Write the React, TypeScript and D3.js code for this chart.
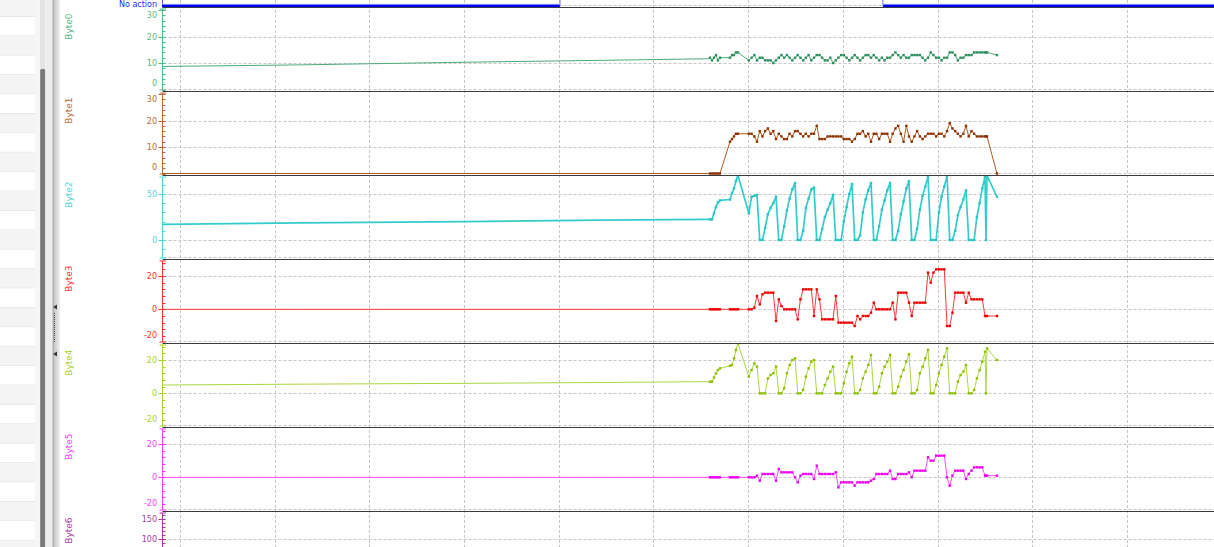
import React from "react";
import * as d3 from "d3";

// ---- sample timestamps (seconds) ----
const sampleTimes = [
  -0.19, 1.267, 3.01, 4.435, 5.575,
  5.597, 5.618, 5.639, 5.66, 5.681, 5.702,
  5.808, 5.829, 5.85, 5.871, 5.892,
  6.007, 6.036, 6.065, 6.093, 6.122, 6.151, 6.179, 6.208, 6.237, 6.265,
  6.294, 6.323, 6.351, 6.38, 6.409, 6.437, 6.466, 6.495, 6.523, 6.552,
  6.581, 6.609, 6.638, 6.667, 6.695, 6.724, 6.753, 6.781, 6.81, 6.839,
  6.867, 6.896, 6.925, 6.953, 6.982, 7.01, 7.039, 7.068, 7.096, 7.125,
  7.154, 7.182, 7.211, 7.24, 7.268, 7.297, 7.326, 7.354, 7.383, 7.412,
  7.44, 7.469, 7.498, 7.526, 7.555, 7.584, 7.612, 7.641, 7.67, 7.698,
  7.727, 7.756, 7.784, 7.813, 7.842, 7.87, 7.899, 7.928, 7.956, 7.985,
  8.014, 8.042, 8.071, 8.1, 8.128, 8.157, 8.186, 8.214, 8.243, 8.272,
  8.3, 8.329, 8.358, 8.386, 8.415, 8.444, 8.472, 8.501,
  8.511, 8.522, 8.627,
];

const byte0 = [
  8.7, 9.3, 10.3, 11.0, 11.6,
  12, 11, 12, 13, 11, 12,
  12, 13, 13, 14, 14,
  11, 12, 13, 11, 12, 12, 11, 11, 11, 10,
  11, 12, 13, 12, 13, 12, 11, 12, 13, 12,
  11, 12, 13, 11, 12, 13, 13, 12, 11, 11,
  12, 10, 11, 12, 13, 13, 12, 11, 12, 13,
  12, 11, 12, 13, 13, 12, 13, 12, 11, 12,
  11, 12, 12, 13, 14, 13, 12, 13, 12, 12,
  13, 13, 13, 13, 12, 11, 12, 14, 13, 12,
  12, 11, 12, 12, 14, 14, 13, 11, 12, 12,
  13, 13, 13, 14, 14, 14, 14, 14,
  14, 14, 13,
];

const byte1 = [
  0, 0, 0, 0, 0,
  0, 0, 0, 0, 0, 0,
  12, 13, 14, 15, 15,
  15, 15, 14, 12, 16, 14, 16, 17, 15, 16,
  13, 15, 14, 13, 13, 15, 14, 16, 16, 15,
  14, 15, 14, 15, 15, 18, 13, 13, 13, 14,
  14, 14, 14, 14, 14, 13, 13, 13, 12, 13,
  15, 15, 16, 14, 15, 12, 15, 15, 13, 15,
  15, 15, 12, 15, 17, 18, 15, 12, 18, 14,
  12, 14, 16, 14, 13, 14, 15, 15, 15, 14,
  15, 15, 14, 16, 19, 17, 16, 15, 14, 15,
  18, 14, 16, 15, 14, 14, 14, 14,
  14, 14, 0,
];

const byte2 = [
  17, 18.5, 20, 21.5, 22.5,
  22.5, 22.5, 29, 36, 41, 43,
  44, 51, 56, 64, 70,
  29, 47, 48, 49,
  0, 0, 13, 28, 35, 40, 47,
  0, 0, 15, 32, 45, 55, 62,
  0, 0, 10, 35, 45, 55, 57,
  0, 0, 12, 25, 33, 40, 49,
  0, 0, 0, 20, 36, 50, 61,
  0, 0, 5, 30, 44, 54, 62,
  0, 0, 15, 33, 43, 54, 62,
  0, 0, 10, 28, 42, 56, 64,
  0, 0, 12, 33, 48, 58, 69,
  0, 0, 0, 30, 47, 58, 70,
  0, 0, 10, 27, 36, 44, 54,
  0, 0, 0, 25, 40, 56, 69,
  0, 70, 47,
];

const byte3 = [
  0, 0, 0, 0, 0,
  0, 0, 0, 0, 0, 0,
  0, 0, 0, 0, 0,
  0, 0, 1, 8, 3, 9, 10, 10, 10, 10,
  -7, 6, 2, 0, 0, 0, 0, 0, -6, 6,
  12, 12, 12, 12, -4, 12, 6, -6, -6, -6,
  -6, -6, 8, -8, -8, -8, -8, -8, -8, -10,
  -4, -6, -4, -4, -4, -2, 4, 0, 0, 0,
  0, 0, 0, 4, -6, 10, 10, 10, 10, 4,
  -4, 4, 4, 4, 4, 4, 22, 16, 22, 24,
  24, 24, 24, -10, -10, -2, 10, 10, 10, 10,
  4, 10, 6, 6, 6, 6, 6, -4,
  -4, -4, -4,
];

const byte4 = [
  5, 5.5, 6, 6.5, 7,
  7, 7, 9.5, 12, 14, 15,
  16.5, 17, 21, 26, 30,
  10, 14, 18, 16,
  0, 0, 0, 9, 11, 12, 16,
  0, 0, 3, 12, 17, 20, 21,
  0, 0, 2, 10, 15, 19, 20,
  0, 0, 0, 5, 9, 13, 16,
  0, 0, 0, 6, 13, 18, 22,
  0, 0, 2, 9, 13, 17, 23,
  0, 0, 4, 12, 16, 19, 23,
  0, 0, 4, 10, 14, 19, 23.5,
  0, 0, 2, 12, 16, 21, 26,
  0, 0, 5, 12, 17, 22, 27,
  0, 0, 0, 7, 11, 13, 17,
  0, 0, 2, 9, 14, 19, 25,
  0, 27, 20,
];

const byte5 = [
  0, 0, 0, 0, 0,
  0, 0, 0, 0, 0, 0,
  0, 0, 0, 0, 0,
  0, 0, 0, 1, -2, 2, 2, 2, 2, 2,
  -2, 5, 3, 3, 3, 3, 3, 0, -3, 1,
  2, 2, 2, 2, -1, 7, 2, 2, 2, 2,
  2, 2, 3, -6, -3, -3, -3, -3, -3, -5,
  -3, -3, -3, -3, -3, -2, -1, 2, 2, 2,
  2, 2, 4, -1, -1, 2, 2, 2, 2, 3,
  0, 4, 4, 4, 4, 4, 12, 10, 10, 13,
  13, 13, 13, 0, -5, 1, 4, 4, 4, 4,
  -1, 2, 4, 6, 6, 6, 6, 1,
  1, 1, 1,
];

// state channel (top lane)
const stateTimes = [-0.19, 4.013, 7.423];
const stateValues = ["No action", "Active", "No action"];
const stateLevels = ["Active", "No action"];

const laneNames = ["Byte0", "Byte1", "Byte2", "Byte3", "Byte4", "Byte5", "Byte6"];
const gridSeconds = d3.range(0, 11);
const firstDenseTime = 5.59;

const W = 1214;
const H = 547;
const AX = 162.5;
const FONT = "DejaVu Sans, Verdana, sans-serif";

const laneSeps = [7.5, 91.5, 175.5, 259.5, 343.5, 427.5, 511.5, 595.5];

const laneCfg = [
  { values: byte0, domain: [-0.75, 30.95], major: 10, line: "#4aaa7a", dot: "#2e8e5e", axis: "#56b887", width: 1 },
  { values: byte1, domain: [-0.75, 30.95], major: 10, line: "#b25a22", dot: "#8c3200", axis: "#b86a3a", width: 1 },
  { values: byte2, domain: [-21.2, 70.1], major: 50, line: "#33cccc", dot: "#2bc3c3", axis: "#52d4d4", width: 1.7 },
  { values: byte3, domain: [-20.5, 29.9], major: 20, line: "#ff3a3a", dot: "#ee0000", axis: "#ff2e2e", width: 1 },
  { values: byte4, domain: [-20.5, 29.9], major: 20, line: "#a9d640", dot: "#8cbf00", axis: "#a6d22d", width: 1 },
  { values: byte5, domain: [-20.5, 29.9], major: 20, line: "#ff4aff", dot: "#ee00ee", axis: "#ff3cff", width: 1 },
  { values: null as number[] | null, domain: [-37, 168], major: 50, line: "#a030a0", dot: "#a030a0", axis: "#a43ca4", width: 1 },
];

const xScale = d3.scaleLinear().domain([-0.19, 10.919]).range([162, 1214]);

function Lane({ i }: { i: number }) {
  const cfg = laneCfg[i];
  const top = laneSeps[i];
  const bottom = laneSeps[i + 1];
  const y = d3.scaleLinear().domain(cfg.domain).range([bottom, top]);
  const majors = d3.range(Math.ceil(cfg.domain[0] / cfg.major) * cfg.major, cfg.domain[1] + 1e-9, cfg.major);
  const mStep = cfg.major / 5;
  const minors = d3
    .range(Math.ceil(cfg.domain[0] / mStep) * mStep, cfg.domain[1] + 1e-9, mStep)
    .filter((v) => y(v) > top + 1.5 && y(v) < bottom - 1.5);
  const line = d3
    .line<number>()
    .x((_, j) => xScale(sampleTimes[j]))
    .y((v) => y(v));
  const clipId = `laneclip${i}`;
  return (
    <g>
      <clipPath id={clipId}>
        <rect x={AX} y={top} width={W - AX} height={bottom - top} />
      </clipPath>
      {/* horizontal grid */}
      {majors
        .filter((v) => y(v) > top + 8 && y(v) < bottom - 3.5)
        .map((v) => (
          <line key={"g" + v} x1={AX + 1} x2={W} y1={Math.round(y(v)) + 0.5} y2={Math.round(y(v)) + 0.5}
            stroke="#c6c6c6" strokeDasharray="3 2" />
        ))}
      <line x1={AX + 1} x2={W} y1={bottom - 2} y2={bottom - 2} stroke="#c6c6c6" strokeDasharray="3 2" />
      {/* axis */}
      <line x1={AX} x2={AX} y1={top + 1.5} y2={bottom - 1.5} stroke={cfg.axis} />
      <line x1={AX - 3} x2={AX + 3.5} y1={top + 1.5} y2={top + 1.5} stroke={cfg.axis} />
      <line x1={AX - 3} x2={AX + 3.5} y1={bottom - 1.5} y2={bottom - 1.5} stroke={cfg.axis} />
      {minors.map((v) => (
        <line key={"m" + v} x1={AX} x2={AX + 3} y1={Math.round(y(v)) + 0.5} y2={Math.round(y(v)) + 0.5} stroke={cfg.axis} />
      ))}
      {majors
        .filter((v) => y(v) > top - 1.5 && y(v) < bottom + 1.5)
        .map((v) => {
          const yy = Math.round(y(v)) + 0.5;
          const ly = Math.max(top + 8, Math.min(bottom - 8, yy));
          if (ly > H - 5) return null;
          const tickVisible = yy > top + 1 && yy < bottom - 1;
          return (
            <g key={"M" + v}>
              {tickVisible && <line x1={AX - 4} x2={AX + 3} y1={yy} y2={yy} stroke={cfg.axis} />}
              <text x={157} y={ly} dy="0.35em" textAnchor="end" fontSize={8} fontFamily={FONT} fill={cfg.axis}>
                {v}
              </text>
            </g>
          );
        })}
      {/* lane label */}
      <text transform={`translate(72, ${top + 6}) rotate(-90)`} textAnchor="end" fontSize={9} fontFamily={FONT} fill={cfg.axis}>
        {laneNames[i]}
      </text>
      {/* series */}
      {cfg.values && (
        <g clipPath={`url(#${clipId})`}>
          <path d={line(cfg.values) || ""} fill="none" stroke={cfg.line} strokeWidth={cfg.width} strokeLinejoin="round" />
          {cfg.values.map((v, j) =>
            sampleTimes[j] >= firstDenseTime ? (
              <rect key={j} x={xScale(sampleTimes[j]) - 1.2} y={y(v) - 1.2} width={2.4} height={2.4} fill={cfg.dot} />
            ) : null
          )}
        </g>
      )}
    </g>
  );
}

function StateLane() {
  const ys = d3.scalePoint<string>().domain(stateLevels).range([-60, 6]);
  const segs = stateTimes.map((t, i) => ({
    x1: xScale(t),
    x2: i + 1 < stateTimes.length ? xScale(stateTimes[i + 1]) : W,
    y: ys(stateValues[i]) as number,
  }));
  return (
    <g>
      <line x1={AX} x2={AX} y1={-10} y2={6} stroke="#5a5aff" />
      <line x1={AX} x2={AX + 3.5} y1={6} y2={6} stroke="#5a5aff" />
      <text x={157} y={6.5} textAnchor="end" fontSize={8} fontFamily={FONT} fill="#2626ff">
        No action
      </text>
      {segs.map((s, i) => (
        <g key={i}>
          <line x1={s.x1} x2={s.x2} y1={s.y - 1.6} y2={s.y - 1.6} stroke="#9a9aff" strokeWidth={1} />
          <line x1={s.x1} x2={s.x2} y1={s.y} y2={s.y} stroke="#0000f0" strokeWidth={2.4} />
          {i > 0 && (
            <line x1={s.x1} x2={s.x1} y1={segs[i - 1].y} y2={s.y} stroke="#7777ff" strokeWidth={1} />
          )}
        </g>
      ))}
    </g>
  );
}

function SidePanel() {
  const rows = d3.range(0, 30);
  return (
    <g>
      <rect x={0} y={0} width={35} height={H} fill="#ffffff" />
      {rows.map((r) => (
        <g key={r}>
          <rect x={0} y={-2.5 + r * 19.4} width={35} height={19.4} fill={r % 2 === 0 ? "#f4f4f4" : "#ffffff"} />
          <line x1={0} x2={35} y1={-2.5 + r * 19.4 + 19} y2={-2.5 + r * 19.4 + 19} stroke="#e6e6e6" />
        </g>
      ))}
      <rect x={35} y={0} width={5} height={H} fill="#f6f6f6" />
      <rect x={40} y={0} width={5.5} height={H} fill="#e4e4e4" />
      <rect x={40.2} y={69} width={5} height={H} rx={1.5} fill="#7a7a7a" />
      <rect x={45.5} y={0} width={7} height={H} fill="#ededed" />
      <rect x={52.5} y={0} width={2} height={H} fill="#ababab" />
      <rect x={54.5} y={0} width={5.5} height={H} fill="url(#splitGrad)" />
      <polygon points="53,307 57,304.5 57,309.5" fill="#3a3a3a" />
      <polygon points="53,354 57,351.5 57,356.5" fill="#3a3a3a" />
      <line x1={54.5} x2={54.5} y1={313} y2={343} stroke="#4a4a4a" strokeDasharray="1 1" />
    </g>
  );
}

export default function App() {
  return (
    <svg width={W} height={H} style={{ position: "absolute", left: 0, top: 0, display: "block", background: "#fff" }}>
      <defs>
        <linearGradient id="splitGrad" x1="0" x2="1" y1="0" y2="0">
          <stop offset="0" stopColor="#c9c9c9" />
          <stop offset="1" stopColor="#f1f1f1" />
        </linearGradient>
      </defs>
      <rect x={0} y={0} width={W} height={H} fill="#ffffff" />
      {/* vertical grid */}
      {gridSeconds.map((s) => (
        <line key={s} x1={Math.round(xScale(s)) + 0.5} x2={Math.round(xScale(s)) + 0.5} y1={0} y2={H}
          stroke="#c6c6c6" strokeDasharray="3 2" />
      ))}
      <line x1={AX + 1} x2={W} y1={5.5} y2={5.5} stroke="#c6c6c6" strokeDasharray="3 2" />
      <StateLane />
      {laneNames.map((_, i) => (
        <Lane key={i} i={i} />
      ))}
      {laneSeps.map((s, i) => (
        <line key={i} x1={AX} x2={W} y1={s} y2={s} stroke="#3c3c3c" />
      ))}
      <SidePanel />
    </svg>
  );
}
